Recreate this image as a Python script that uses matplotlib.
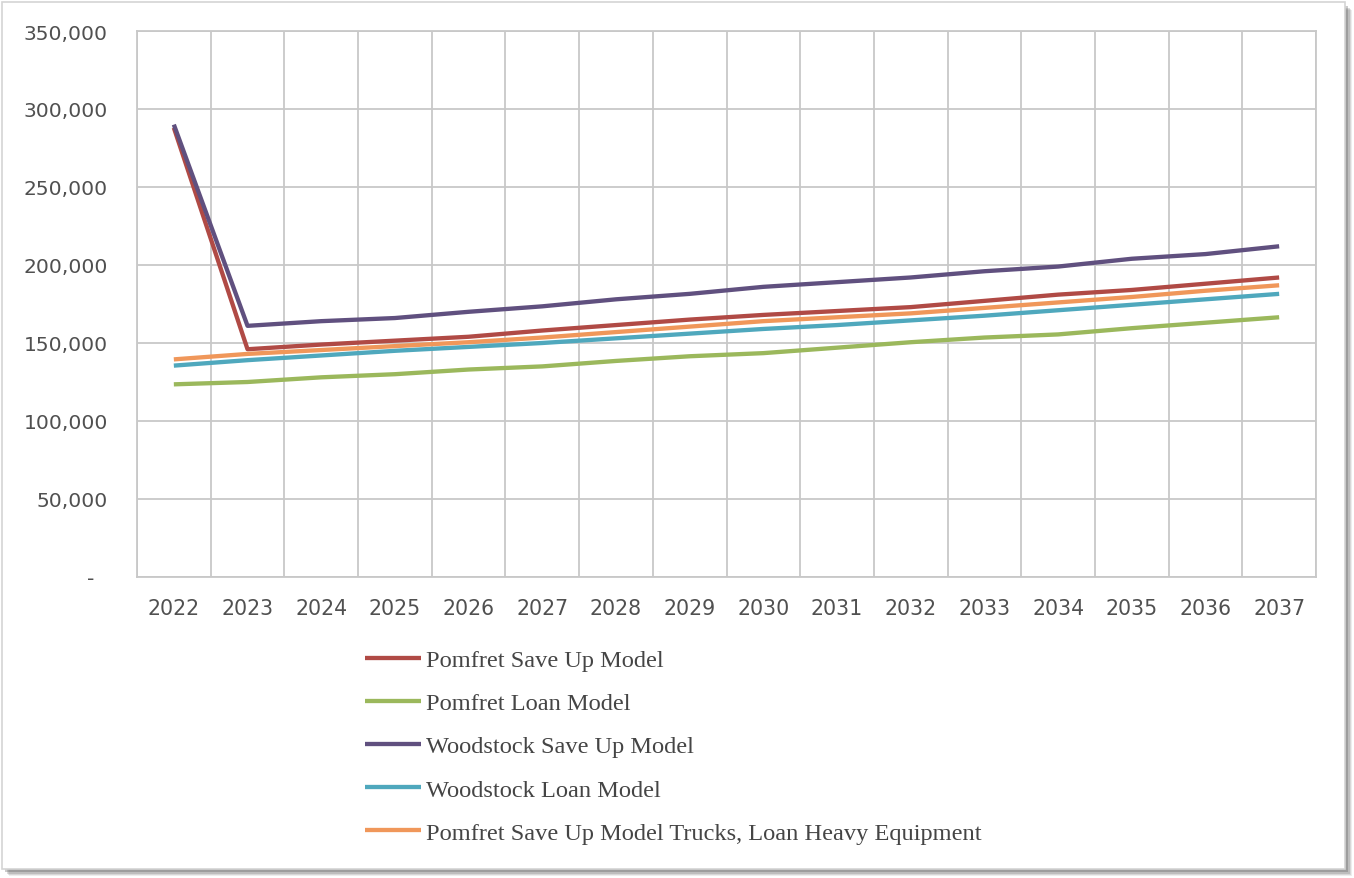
import matplotlib
matplotlib.use("Agg")
import matplotlib.pyplot as plt
from matplotlib.patches import Rectangle
from matplotlib.ticker import FuncFormatter, MultipleLocator

# fleet cost projections per year
years = [str(y) for y in range(2022, 2038)]

pomfret_save_up = [288000, 146000, 149000, 151500, 154000, 158000, 161500, 165000,
                   168000, 170500, 173000, 177000, 181000, 184000, 188000, 192000]
pomfret_loan = [123500, 125000, 128000, 130000, 133000, 135000, 138500, 141500,
                143500, 147000, 150500, 153500, 155500, 159500, 163000, 166500]
woodstock_save_up = [290000, 161000, 164000, 166000, 170000, 173500, 178000, 181500,
                     186000, 189000, 192000, 196000, 199000, 204000, 207000, 212000]
woodstock_loan = [135500, 139000, 142000, 145000, 147500, 150000, 153000, 156000,
                  159000, 161500, 164500, 167500, 171000, 174500, 178000, 181500]
pomfret_mixed = [139500, 143000, 145500, 148000, 150500, 153500, 157000, 160500,
                 164000, 166500, 169000, 172500, 176000, 179500, 183500, 187000]

series = [
    ("Pomfret Save Up Model", pomfret_save_up, "#b04a45"),
    ("Pomfret Loan Model", pomfret_loan, "#9bb85c"),
    ("Woodstock Save Up Model", woodstock_save_up, "#60507f"),
    ("Woodstock Loan Model", woodstock_loan, "#4fa8bd"),
    ("Pomfret Save Up Model Trucks, Loan Heavy Equipment", pomfret_mixed, "#f0975a"),
]

grid_col = "#c8c8c8"
text_col = "#505050"

fig = plt.figure(figsize=(13.54, 8.79), dpi=100)
fig.patch.set_facecolor("white")

# page frame with a soft drop shadow on the right and bottom
for i, a in enumerate([0.10, 0.14, 0.20, 0.30]):
    off = (4 - i) * 1.3
    fig.patches.append(Rectangle((4 + off, 7 - off), 1343, 866, transform=None,
                                 facecolor="#555555", edgecolor="none", alpha=a, zorder=0))
fig.patches.append(Rectangle((2, 9), 1343, 867, transform=None,
                             facecolor="white", edgecolor="#d4d4d4", lw=1.2, zorder=1))

ax = fig.add_axes([137 / 1354, 1 - 578 / 879, (1316 - 137) / 1354, (578 - 32) / 879])
ax.set_zorder(2)
ax.set_facecolor("white")

x = list(range(len(years)))
for label, values, color in series:
    ax.plot(x, values, color=color, lw=3.1, label=label, solid_capstyle="butt", zorder=3)

ax.set_xlim(-0.5, len(years) - 0.5)
ax.set_ylim(0, 350000)
ax.yaxis.set_major_locator(MultipleLocator(50000))
ax.yaxis.set_major_formatter(FuncFormatter(lambda v, p: "-  " if v == 0 else f"{int(v):,}"))

ax.set_xticks(x)
ax.set_xticklabels(years)
ax.set_xticks([i - 0.5 for i in range(len(years) + 1)], minor=True)

ax.grid(True, axis="y", which="major", color=grid_col, lw=1.3)
ax.grid(True, axis="x", which="minor", color=grid_col, lw=1.3)
ax.set_axisbelow(True)
ax.tick_params(axis="both", which="both", length=0)
ax.tick_params(axis="y", labelsize=14.6, labelcolor=text_col, pad=21)
ax.tick_params(axis="x", labelsize=14.8, labelcolor=text_col, pad=15)
for s in ax.spines.values():
    s.set_color(grid_col)
    s.set_linewidth(1.3)

leg = fig.legend(loc="upper left", bbox_to_anchor=(365 / 1354, 1 - 650 / 879),
                 frameon=False, borderpad=0, borderaxespad=0,
                 handlelength=2.3, handletextpad=0.2, labelspacing=0.86,
                 prop={"family": "Liberation Serif", "size": 17.6})
for t in leg.get_texts():
    t.set_color("#454545")

fig.savefig("out.png", dpi=100, facecolor="white")
